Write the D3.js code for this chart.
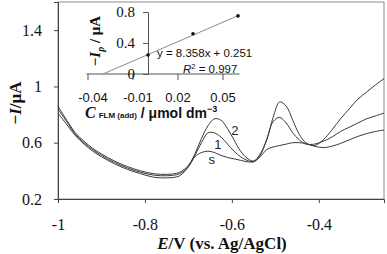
<!DOCTYPE html>
<html>
<head>
<meta charset="utf-8">
<script src="https://cdn.jsdelivr.net/npm/d3@7"></script>
<style>
  body { margin: 0; background: #fff; }
  svg { display: block; }
</style>
</head>
<body>
<div id="chart"></div>
<script>
const width = 387;
const height = 254;

// potential (V vs. Ag/AgCl)
const potentials = [-1.00, -0.98, -0.96, -0.94, -0.92, -0.90, -0.87, -0.84, -0.81, -0.78,
  -0.75, -0.72, -0.70, -0.685, -0.67, -0.655, -0.64, -0.625, -0.61, -0.595,
  -0.58, -0.565, -0.55, -0.535, -0.52, -0.505, -0.49, -0.475, -0.46, -0.445,
  -0.43, -0.41, -0.39, -0.37, -0.35, -0.33, -0.31, -0.29, -0.27, -0.25];

// -I (µA) for sample (s) and two standard additions (1, 2)
const currentS = [0.81, 0.73, 0.65, 0.59, 0.54, 0.50, 0.45, 0.41, 0.38, 0.355,
  0.35, 0.365, 0.43, 0.50, 0.53, 0.54, 0.53, 0.51, 0.495, 0.485,
  0.475, 0.465, 0.465, 0.50, 0.55, 0.57, 0.58, 0.59, 0.60, 0.60,
  0.595, 0.575, 0.565, 0.575, 0.595, 0.62, 0.645, 0.665, 0.68, 0.69];
const current1 = [0.84, 0.75, 0.66, 0.60, 0.55, 0.51, 0.46, 0.42, 0.39, 0.37,
  0.365, 0.38, 0.43, 0.51, 0.60, 0.67, 0.67, 0.64, 0.59, 0.54,
  0.50, 0.475, 0.465, 0.51, 0.62, 0.75, 0.78, 0.74, 0.67, 0.62,
  0.59, 0.59, 0.61, 0.64, 0.68, 0.71, 0.74, 0.77, 0.79, 0.81];
const current2 = [0.86, 0.76, 0.67, 0.61, 0.56, 0.52, 0.47, 0.43, 0.40, 0.38,
  0.375, 0.39, 0.44, 0.52, 0.63, 0.72, 0.77, 0.76, 0.70, 0.62,
  0.54, 0.49, 0.47, 0.52, 0.62, 0.78, 0.89, 0.86, 0.76, 0.66,
  0.60, 0.58, 0.62, 0.69, 0.77, 0.84, 0.91, 0.96, 1.01, 1.055];

const curveLabels = [
  { text: "2", E: -0.593, I: 0.68 },
  { text: "1", E: -0.632, I: 0.58 },
  { text: "s", E: -0.646, I: 0.475 }
];

const xTicks = [-1, -0.8, -0.6, -0.4];
const yTicks = [0.2, 0.6, 1, 1.4];

// inset: standard addition plot
const addConc = [0, 0.03, 0.06];
const peakCurrent = [0.245, 0.52, 0.75];
const slope = 8.358;
const intercept = 0.251;
const insetXTicks = [-0.04, -0.01, 0.02, 0.05];
const insetYTicks = [0, 0.4, 0.8];

const svg = d3.select("#chart").append("svg")
  .attr("width", width)
  .attr("height", height);

const margin = { top: 2, right: 3, bottom: 55, left: 58 };

const x = d3.scaleLinear().domain([-1, -0.25])
  .range([margin.left, width - margin.right]);
const y = d3.scaleLinear().domain([0.2, 1.6])
  .range([height - margin.bottom, margin.top]);

// frame
svg.append("rect")
  .attr("x", x(-1)).attr("y", y(1.6))
  .attr("width", x(-0.25) - x(-1)).attr("height", y(0.2) - y(1.6))
  .attr("fill", "none").attr("stroke", "#8c8c8c").attr("stroke-width", 1);

const serif = "'Liberation Serif', 'Times New Roman', serif";
const sans = "'Liberation Sans', Arial, sans-serif";

const xAxis = svg.append("g")
  .attr("transform", `translate(0,${y(0.2)})`)
  .call(d3.axisBottom(x).tickValues(xTicks).tickSize(4).tickPadding(16)
    .tickFormat(d => String(d)));
const yAxis = svg.append("g")
  .attr("transform", `translate(${x(-1)},0)`)
  .call(d3.axisLeft(y).tickValues(yTicks).tickSize(4).tickPadding(12)
    .tickFormat(d => String(d)));

[xAxis, yAxis].forEach(g => {
  g.select(".domain").attr("stroke", "#444");
  g.selectAll(".tick line").attr("stroke", "#444");
  g.selectAll("text").attr("font-family", serif).attr("font-size", 16).attr("fill", "#111");
});

// curves
const line = d3.line()
  .curve(d3.curveCatmullRom.alpha(0.5))
  .x(d => x(d[0]))
  .y(d => y(d[1]));

[currentS, current1, current2].forEach(series => {
  svg.append("path")
    .datum(potentials.map((e, i) => [e, series[i]]))
    .attr("d", line)
    .attr("fill", "none")
    .attr("stroke", "#3a3a3a")
    .attr("stroke-width", 1);
});

svg.selectAll(".clabel")
  .data(curveLabels)
  .enter().append("text")
  .attr("class", "clabel")
  .attr("x", d => x(d.E))
  .attr("y", d => y(d.I))
  .attr("text-anchor", "middle")
  .attr("dominant-baseline", "middle")
  .attr("font-family", sans)
  .attr("font-size", 13)
  .attr("fill", "#222")
  .text(d => d.text);

// axis titles
const xTitle = svg.append("text")
  .attr("x", 222).attr("y", 249)
  .attr("text-anchor", "middle")
  .attr("font-family", serif).attr("font-size", 17).attr("font-weight", "bold")
  .attr("fill", "#111");
xTitle.append("tspan").attr("font-style", "italic").text("E");
xTitle.append("tspan").text("/V (vs. Ag/AgCl)");

const yTitle = svg.append("text")
  .attr("transform", "translate(21,103) rotate(-90)")
  .attr("text-anchor", "middle")
  .attr("font-family", serif).attr("font-size", 17).attr("font-weight", "bold")
  .attr("fill", "#111");
yTitle.append("tspan").text("−");
yTitle.append("tspan").attr("font-style", "italic").text("I");
yTitle.append("tspan").text("/μA");

// inset
const ix = d3.scaleLinear().domain([-0.04, 0.06]).range([88, 238]);
const iy = d3.scaleLinear().domain([0, 0.8]).range([74, 12]);

const inset = svg.append("g");

inset.append("line")
  .attr("x1", ix(-0.041)).attr("x2", ix(0.061))
  .attr("y1", iy(0)).attr("y2", iy(0))
  .attr("stroke", "#555");
inset.selectAll(".ixt")
  .data(insetXTicks)
  .enter().append("line")
  .attr("x1", d => ix(d)).attr("x2", d => ix(d))
  .attr("y1", iy(0)).attr("y2", iy(0) + 6)
  .attr("stroke", "#555");
inset.selectAll(".ixl")
  .data(insetXTicks)
  .enter().append("text")
  .attr("x", d => ix(d) + (d < 0 ? 5 : 0))
  .attr("y", 102)
  .attr("text-anchor", "middle")
  .attr("font-family", sans).attr("font-size", 13)
  .attr("fill", "#111")
  .text(d => d3.format(".2f")(d).replace("−", "-"));

inset.append("g")
  .attr("transform", `translate(${ix(0)},0)`)
  .call(d3.axisLeft(iy).tickValues(insetYTicks).tickSize(5).tickPadding(8)
    .tickFormat(d => String(d)))
  .call(g => {
    g.select(".domain").attr("stroke", "#555");
    g.selectAll(".tick line").attr("stroke", "#555");
    g.selectAll("text").attr("font-family", serif).attr("font-size", 15).attr("fill", "#111");
  });

// regression line from x-intercept to last point
inset.append("line")
  .attr("x1", ix(-intercept / slope)).attr("y1", iy(0))
  .attr("x2", ix(0.06)).attr("y2", iy(slope * 0.06 + intercept))
  .attr("stroke", "#8a8a8a").attr("stroke-width", 1);

inset.selectAll(".pt")
  .data(addConc)
  .enter().append("circle")
  .attr("cx", d => ix(d))
  .attr("cy", (d, i) => iy(peakCurrent[i]))
  .attr("r", 1.8)
  .attr("fill", "#111");

inset.append("text")
  .attr("x", 157).attr("y", 57)
  .attr("font-family", sans).attr("font-size", 11.5).attr("fill", "#111")
  .text(`y = ${slope}x + ${intercept}`);
const r2 = inset.append("text")
  .attr("x", 183).attr("y", 73)
  .attr("font-family", sans).attr("font-size", 11.5).attr("fill", "#111");
r2.append("tspan").attr("font-style", "italic").text("R");
r2.append("tspan").attr("font-size", 7.5).attr("dy", -4).text("2");
r2.append("tspan").attr("dy", 4).text(" = 0.997");

const iyTitle = inset.append("text")
  .attr("transform", "translate(100,41) rotate(-90)")
  .attr("text-anchor", "middle")
  .attr("font-family", serif).attr("font-size", 15).attr("font-weight", "bold")
  .attr("fill", "#111");
iyTitle.append("tspan").text("−");
iyTitle.append("tspan").attr("font-style", "italic").text("I");
iyTitle.append("tspan").attr("font-style", "italic").attr("font-size", 10).attr("dy", 4).text("p");
iyTitle.append("tspan").attr("dy", -4).text(" / μA");

const ixTitle = inset.append("text")
  .attr("x", 85).attr("y", 118)
  .attr("font-weight", "bold").attr("fill", "#111");
ixTitle.append("tspan").attr("font-family", serif).attr("font-style", "italic")
  .attr("font-size", 16).text("C");
ixTitle.append("tspan").attr("font-family", sans).attr("font-size", 8)
  .attr("dx", 3).text("FLM (add)");
ixTitle.append("tspan").attr("font-family", sans).attr("font-size", 14)
  .text(" / μmol dm");
ixTitle.append("tspan").attr("font-family", sans).attr("font-size", 9)
  .attr("dy", -6).text("−3");
</script>
</body>
</html>
